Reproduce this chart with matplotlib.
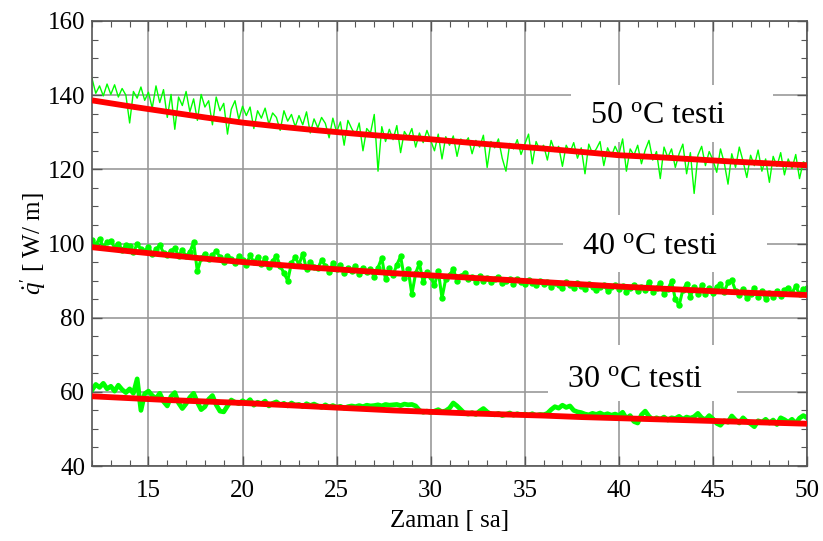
import numpy as np
import matplotlib
matplotlib.use("Agg")
import matplotlib.pyplot as plt
from matplotlib.patches import Rectangle
from matplotlib.ticker import MultipleLocator

plt.rcParams['font.family'] = ['Liberation Serif', 'DejaVu Serif']
plt.rcParams['mathtext.fontset'] = 'custom'
plt.rcParams['mathtext.rm'] = 'Liberation Serif'
plt.rcParams['mathtext.it'] = 'Liberation Serif:italic'

# measured heat flux, sampled every 0.2 h from 12 to 50 h
t_meas = np.linspace(12, 50, 191)

q50 = [144.5, 140.5, 142.5, 139.8, 143.0,
       140.2, 142.8, 139.5, 141.8, 140.0,
       132.5, 141.0, 139.2, 142.2, 138.6,
       140.8, 136.5, 142.5, 138.0, 141.5,
       134.0, 140.2, 130.8, 139.5, 137.2,
       141.0, 135.5, 139.0, 133.2, 140.2,
       136.8, 138.5, 132.0, 139.5, 135.8,
       137.8, 129.5, 136.2, 138.5, 133.5,
       137.0, 134.5, 136.8, 131.0, 135.8,
       133.8, 136.5, 132.2, 135.2, 134.0,
       130.5, 135.8, 133.0, 134.8, 131.5,
       134.5, 132.0, 135.5, 129.8, 133.6,
       131.2, 134.0, 132.4, 128.5, 133.8,
       130.0, 132.8, 126.5, 133.2, 131.0,
       129.2, 132.5, 125.0, 131.0, 129.8,
       134.8, 119.5, 131.5, 127.5, 130.8,
       128.0, 131.8, 124.5, 130.2, 128.6,
       131.0, 126.0, 129.8, 127.2, 130.5,
       127.8, 125.0, 129.5, 122.8, 128.8,
       126.5, 129.0, 123.5, 128.2, 127.0,
       128.5, 124.2, 127.8, 126.0, 129.2,
       120.5, 127.5, 125.8, 128.2, 123.0,
       119.5, 127.0, 125.5, 128.0, 124.0,
       126.8, 129.5, 121.5, 127.5, 125.2,
       126.5, 122.5, 127.8, 124.8, 126.2,
       120.8, 126.5, 124.5, 127.2, 123.0,
       125.8, 118.8, 126.8, 124.2, 125.5,
       127.5, 121.0, 125.8, 123.5, 126.2,
       124.0, 128.2, 119.5, 125.5, 123.8,
       126.5, 121.5, 125.2, 127.8, 122.5,
       124.8, 117.5, 126.0, 123.2, 125.5,
       120.5, 124.2, 126.8, 118.8, 124.5,
       113.5, 123.8, 126.2, 121.0, 124.8,
       122.5, 119.2, 125.5, 121.8, 116.0,
       124.2, 120.5, 126.0, 122.2, 117.8,
       123.8, 121.0, 125.2, 119.5, 122.8,
       116.5, 123.5, 120.8, 124.5, 118.5,
       122.8, 120.2, 124.0, 117.5, 122.0,
       121.5]

q40 = [101.0, 99.7, 101.3, 99.1, 100.3,
       100.7, 98.9, 100.0, 98.3, 99.5,
       99.3, 97.7, 99.8, 98.5, 98.0,
       99.0, 97.3, 98.4, 99.6, 97.5,
       97.0, 98.1, 98.7, 96.7, 98.3,
       96.5, 97.7, 100.3, 92.5, 96.0,
       97.3, 95.7, 96.9, 98.0, 96.3,
       95.1, 96.7, 95.9, 94.7, 96.5,
       95.5, 94.3, 96.8, 95.0, 96.3,
       94.5, 96.0, 93.7, 95.3, 96.7,
       94.0, 92.0, 90.0, 94.7, 96.3,
       94.3, 97.3, 93.0, 95.1, 93.7,
       93.3, 95.5, 94.0, 92.3, 94.7,
       93.0, 94.3, 92.0, 93.5, 92.7,
       94.0, 91.7, 93.3, 92.3, 93.0,
       91.0, 93.5, 96.1, 90.3, 93.3,
       91.5, 94.3, 96.5, 90.7, 93.0,
       86.3, 92.0, 94.7, 89.5, 92.3,
       91.0, 88.7, 92.7, 85.3, 90.5,
       91.5, 93.1, 90.0, 91.3, 92.0,
       90.3, 91.0, 89.7, 91.3, 90.0,
       90.7, 89.5, 90.3, 91.1, 89.3,
       90.0, 90.5, 89.1, 90.3, 89.7,
       89.0, 90.1, 89.4, 88.7, 89.9,
       89.1, 89.7, 88.3, 89.4, 88.9,
       88.0, 89.5, 88.7, 88.1, 89.3,
       88.5, 87.7, 89.0, 88.3, 87.5,
       88.3, 88.9, 87.3, 88.4, 88.7,
       87.7, 88.5, 87.0, 88.1, 88.8,
       87.1, 88.3, 87.5, 89.7, 86.9,
       88.0, 89.3, 86.3, 87.7, 89.8,
       85.0, 83.3, 87.5, 89.1, 85.7,
       88.3, 86.3, 88.7, 86.5, 87.9,
       86.7, 88.4, 89.1, 87.0, 89.5,
       90.1, 87.3, 86.0, 87.7, 85.3,
       86.5, 88.0, 85.7, 87.1, 85.1,
       86.7, 85.5, 87.3, 85.9, 87.5,
       88.1, 86.7, 88.5, 86.3, 87.7,
       88.0]

q30 = [60.5, 62.0, 61.2, 62.3, 60.8,
       61.5, 60.2, 61.8, 60.6, 59.8,
       60.8, 59.6, 63.5, 55.0, 59.5,
       60.2, 59.0, 58.2, 59.6, 57.4,
       56.2, 58.8, 59.8, 57.0, 55.5,
       56.8, 58.5, 59.6, 57.2, 55.2,
       56.0, 58.0, 59.0, 56.5, 54.8,
       54.6, 56.2, 57.8, 57.2, 56.8,
       57.6, 57.0, 57.9, 56.4, 57.2,
       56.8, 57.5, 56.2, 56.9, 57.3,
       56.5, 56.9, 56.2, 57.0, 56.4,
       56.6, 56.0, 56.8, 56.3, 56.7,
       56.2, 55.8, 56.5, 55.9, 56.3,
       55.8, 56.1, 55.6, 56.0, 56.2,
       56.0, 56.3, 56.0, 56.4, 56.2,
       56.3, 56.5, 56.2, 56.6, 56.4,
       56.5, 56.6, 56.3, 56.7, 56.5,
       56.6, 56.2, 55.0, 54.5, 54.8,
       54.4, 54.8, 55.2, 54.6, 54.9,
       55.6, 57.0, 56.2, 55.2, 54.2,
       54.0, 54.4, 53.9, 54.8, 55.5,
       54.6, 54.0, 53.8, 54.2, 53.6,
       53.9, 54.3, 53.7, 54.1, 53.8,
       54.0, 53.7, 54.1, 53.6, 53.9,
       53.8, 54.2, 55.2, 56.0, 55.6,
       56.4, 55.8, 56.2, 55.0, 54.6,
       54.4, 54.0, 53.8, 54.2, 53.9,
       54.3, 53.8, 54.1, 53.7, 54.0,
       53.6, 54.5, 52.8, 53.6, 52.0,
       51.6, 53.8, 54.8, 53.4, 52.5,
       53.0, 52.6, 53.2, 52.4, 53.0,
       52.8, 53.4, 52.6, 53.2, 52.9,
       53.3, 54.2, 53.0, 52.5, 53.6,
       52.7, 51.5, 51.0, 52.2, 51.8,
       53.5, 52.4, 51.6, 53.0, 52.0,
       51.4, 50.6, 52.2, 51.8, 52.6,
       51.6, 52.4, 51.2, 53.0, 52.5,
       51.8, 52.6, 51.5, 52.9, 53.6,
       53.0]

# fitted curves, read every 2 h
t_fit = [12, 14, 16, 18, 20, 22, 24, 26, 28, 30,
         32, 34, 36, 38, 40, 42, 44, 46, 48, 50]
fit50 = [138.6, 137.0, 135.5, 134.0, 132.6, 131.5, 130.5, 129.6, 128.8, 128.1,
         127.2, 126.4, 125.6, 124.7, 123.8, 123.3, 122.7, 122.1, 121.6, 121.1]
fit40 = [99.0, 97.9, 96.9, 95.9, 95.0, 94.2, 93.4, 92.7, 92.0, 91.4,
         90.8, 90.2, 89.6, 89.0, 88.4, 87.9, 87.4, 86.9, 86.5, 86.1]
fit30 = [58.8, 58.3, 57.8, 57.4, 57.0, 56.5, 56.0, 55.5, 55.0, 54.6,
         54.2, 53.9, 53.6, 53.2, 52.9, 52.6, 52.3, 52.0, 51.7, 51.4]

labels = [r'50 $^{\mathrm{o}}$C testi', r'40 $^{\mathrm{o}}$C testi', r'30 $^{\mathrm{o}}$C testi']

fig = plt.figure(figsize=(8.23, 5.41), dpi=100)
ax = fig.add_axes([0.1118, 0.1386, 0.8688, 0.8226])

green = '#00ff00'
ax.plot(t_meas, q50, color=green, lw=1.0, zorder=2)
ax.plot(t_meas, q40, '-', color=green, lw=2.2, zorder=2)
ax.plot(t_meas, q40, 'o', color=green, ms=3.6, mec=green, zorder=2)
ax.plot(t_meas, q30, color=green, lw=3.4, zorder=2)

for f in (fit50, fit40, fit30):
    ax.plot(t_fit, f, color='red', lw=4.2, solid_capstyle='butt', zorder=3)

# white boxes behind the labels (hide grid)
boxes = [(37.46, 127.3, 10.75, 15.4), (37.04, 92.3, 10.85, 15.3), (36.24, 57.4, 10.05, 15.2)]
text_pos = [(42.06, 134.4), (41.67, 99.3), (40.84, 63.3)]
for (bx, by, bw, bh), (tx, ty), lab in zip(boxes, text_pos, labels):
    ax.add_patch(Rectangle((bx, by), bw, bh, facecolor='white', edgecolor='none', zorder=1))
    ax.text(tx, ty, lab, fontsize=23, ha='center', va='center', zorder=4)

ax.set_xlim(12, 50)
ax.set_ylim(40, 160)
ax.xaxis.set_major_locator(MultipleLocator(5))
ax.xaxis.set_minor_locator(MultipleLocator(1))
ax.yaxis.set_major_locator(MultipleLocator(20))
ax.yaxis.set_minor_locator(MultipleLocator(5))
ax.tick_params(which='both', direction='in', top=True, right=True, color='#555555',
               labelsize=18, pad=5)
ax.tick_params(which='major', length=7, width=1)
ax.tick_params(which='minor', length=4, width=0.8)
ax.tick_params(axis='x', pad=10)
ax.set_axisbelow(True)
ax.grid(True, which='major', color='#999999', lw=1.2)
for s in ax.spines.values():
    s.set_color('#555555')
    s.set_linewidth(1.2)

ax.set_xlabel('Zaman [ sa]', fontsize=18, labelpad=6)
ax.set_ylabel(r"$\dot{q}'$ [ W/ m]", fontsize=18, labelpad=0)

fig.savefig('out.png', dpi=100)
